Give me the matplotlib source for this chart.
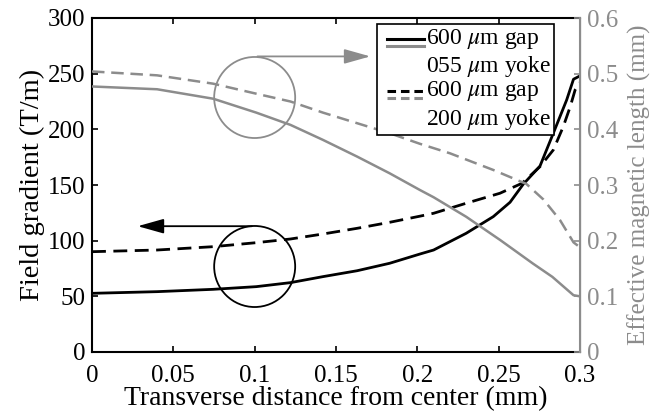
import matplotlib
matplotlib.use("Agg")
import matplotlib.pyplot as plt
from matplotlib.lines import Line2D
from matplotlib.patches import Ellipse
from matplotlib.legend_handler import HandlerBase

plt.rcParams['font.family'] = ['Liberation Serif', 'DejaVu Serif']
plt.rcParams['mathtext.fontset'] = 'stix'

# Field gradient (T/m), left axis
x_grad = [0, 0.04, 0.0745, 0.101, 0.122, 0.142, 0.163, 0.183, 0.2016, 0.21, 0.23,
          0.2467, 0.257, 0.265, 0.2754, 0.2836, 0.2918, 0.296, 0.3]
grad_055 = [52.7, 54.2, 56.3, 58.7, 62.3, 67.7, 73, 79.7, 88, 91.6, 106.6,
            121.6, 134.5, 150.5, 167, 196.5, 226.4, 245, 248]
x_grad2 = [0, 0.04, 0.0745, 0.101, 0.122, 0.142, 0.163, 0.183, 0.2016, 0.21, 0.23,
           0.2508, 0.2644, 0.2754, 0.2836, 0.2897, 0.294, 0.297, 0.3]
grad_200 = [90.1, 91.6, 94.6, 98.2, 101.5, 106, 111.1, 116.5, 122, 124.6, 133.6,
            142.6, 151.6, 166.5, 181.5, 202.4, 220.4, 235.4, 242]

# Effective magnetic length (mm), right axis
x_len = [0, 0.04, 0.0745, 0.101, 0.122, 0.142, 0.163, 0.183, 0.2016, 0.21, 0.23,
         0.2385, 0.251, 0.271, 0.283, 0.296, 0.3]
len_055 = [0.477, 0.472, 0.455, 0.430, 0.408, 0.381, 0.351, 0.321, 0.291, 0.278, 0.243,
           0.226, 0.201, 0.159, 0.135, 0.102, 0.1]
x_len2 = [0, 0.04, 0.0745, 0.101, 0.122, 0.142, 0.163, 0.183, 0.2016, 0.22, 0.2467,
          0.267, 0.2775, 0.2877, 0.296, 0.3]
len_200 = [0.504, 0.497, 0.482, 0.464, 0.450, 0.430, 0.411, 0.393, 0.374, 0.357, 0.327,
           0.302, 0.274, 0.237, 0.197, 0.188]

labels = ['600 $\\mu$m gap\n055 $\\mu$m yoke', '600 $\\mu$m gap\n200 $\\mu$m yoke']

GRAY = '#8c8c8c'
DASH = (0, (5, 2.7))


# Legend handle: black line on top of a gray line
class HandlerPair(HandlerBase):
    def __init__(self, ls):
        super().__init__()
        self.ls = ls

    def create_artists(self, legend, orig_handle, xdescent, ydescent, width, height, fontsize, trans):
        y0 = height * 1.35
        x0 = width * 0.16
        l1 = Line2D([x0, width], [y0, y0], color='black', lw=2.2, ls=self.ls, transform=trans)
        l2 = Line2D([x0, width], [y0 - 5, y0 - 5], color=GRAY, lw=2.2, ls=self.ls, transform=trans)
        return [l1, l2]


fig = plt.figure(figsize=(6.64, 4.2), dpi=100)
ax = fig.add_axes([92 / 664, 1 - 352 / 420, (580 - 92) / 664, (352 - 18) / 420])
ax2 = ax.twinx()

ax.plot(x_grad, grad_055, color='black', lw=2.0)
ax.plot(x_grad2, grad_200, color='black', lw=2.0, ls=DASH)
ax2.plot(x_len, len_055, color=GRAY, lw=1.8)
ax2.plot(x_len2, len_200, color=GRAY, lw=1.8, ls=DASH)

ax.set_xlim(0, 0.3)
ax.set_ylim(0, 300)
ax2.set_ylim(0, 0.6)
ax.set_xticks([0, 0.05, 0.1, 0.15, 0.2, 0.25, 0.3])
ax.set_xticklabels(['0', '0.05', '0.1', '0.15', '0.2', '0.25', '0.3'])
ax.set_yticks(range(0, 301, 50))
ax2.set_yticks([0, 0.1, 0.2, 0.3, 0.4, 0.5, 0.6])
ax2.set_yticklabels(['0', '0.1', '0.2', '0.3', '0.4', '0.5', '0.6'])

ax.tick_params(axis='x', direction='in', top=True, labelsize=18, length=4, width=1.2, pad=9)
ax.tick_params(axis='y', direction='in', labelsize=18, length=4, width=1.2, pad=5)
ax2.tick_params(axis='y', direction='in', labelsize=18, length=4, width=1.2, colors=GRAY, pad=5)

for s in ['left', 'bottom', 'top']:
    ax.spines[s].set_linewidth(1.5)
ax2.spines['right'].set_color(GRAY)
ax2.spines['right'].set_linewidth(1.5)
ax2.spines['left'].set_visible(False)
ax2.spines['top'].set_visible(False)
ax2.spines['bottom'].set_visible(False)

ax.set_xlabel('Transverse distance from center (mm)', fontsize=20, labelpad=0)
ax.set_ylabel('Field gradient (T/m)', fontsize=20.5, labelpad=2)
ax2.set_ylabel('Effective magnetic length (mm)', fontsize=18, color=GRAY, labelpad=7)

# circles with arrows pointing at the axes
ax.add_patch(Ellipse((0.1, 228.6), 0.0498, 72.8, fill=False, ec=GRAY, lw=1.3, zorder=5))
ax.annotate('', xy=(0.1728, 265.5), xytext=(0.1, 265.5),
            arrowprops=dict(arrowstyle='-|>,head_length=1.6,head_width=0.45', color=GRAY, lw=1.3))
ax.add_patch(Ellipse((0.1, 76.8), 0.0498, 72.8, fill=False, ec='black', lw=1.3, zorder=5))
ax.annotate('', xy=(0.0264, 113), xytext=(0.1, 113),
            arrowprops=dict(arrowstyle='-|>,head_length=1.6,head_width=0.45', color='black', lw=1.3))

h1 = Line2D([], [])
h2 = Line2D([], [])
leg = ax2.legend([h1, h2], labels, loc='upper left', bbox_to_anchor=((377 - 92) / 488, 1 - 6 / 334),
                 handler_map={h1: HandlerPair('-'), h2: HandlerPair((0, (2.8, 1.6)))},
                 fontsize=17, frameon=True, fancybox=False, edgecolor='black', framealpha=1,
                 handlelength=1.85, handletextpad=0.1, borderpad=0.12, labelspacing=0.0,
                 borderaxespad=0)
leg.get_frame().set_linewidth(1.2)

fig.savefig('out.png', dpi=100)
